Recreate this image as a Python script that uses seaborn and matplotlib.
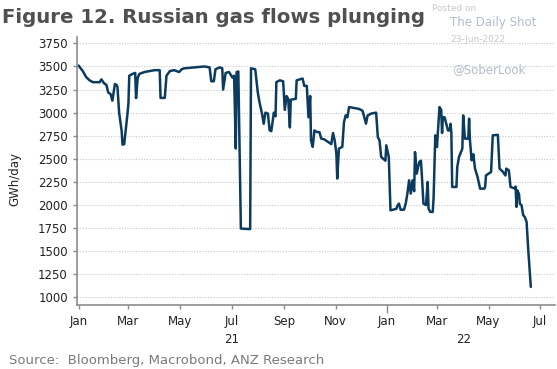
import numpy as np
import pandas as pd
import seaborn as sns
import matplotlib.pyplot as plt
import matplotlib.dates as mdates
import matplotlib.transforms as mtransforms

# values (GWh/day)
dates = [
    "2021-01-01", "2021-01-06", "2021-01-10", "2021-01-14", "2021-01-18", "2021-01-26", "2021-01-28",
    "2021-01-31", "2021-02-03", "2021-02-05", "2021-02-08", "2021-02-10", "2021-02-13", "2021-02-15",
    "2021-02-16", "2021-02-18", "2021-02-21", "2021-02-22", "2021-02-24", "2021-02-28", "2021-03-01",
    "2021-03-02", "2021-03-06", "2021-03-09", "2021-03-10", "2021-03-12", "2021-03-14", "2021-03-20",
    "2021-03-26", "2021-04-01", "2021-04-07", "2021-04-08", "2021-04-13", "2021-04-15", "2021-04-19",
    "2021-04-24", "2021-04-30", "2021-05-03", "2021-05-06", "2021-05-18", "2021-05-30", "2021-06-05",
    "2021-06-07", "2021-06-10", "2021-06-12", "2021-06-17", "2021-06-20", "2021-06-21", "2021-06-24",
    "2021-06-28", "2021-07-02", "2021-07-04", "2021-07-06", "2021-07-07", "2021-07-09", "2021-07-12",
    "2021-07-23", "2021-07-24", "2021-07-29", "2021-08-01", "2021-08-03", "2021-08-06", "2021-08-08",
    "2021-08-10", "2021-08-13", "2021-08-15", "2021-08-17", "2021-08-20", "2021-08-22", "2021-08-23",
    "2021-08-27", "2021-08-31", "2021-09-02", "2021-09-04", "2021-09-06", "2021-09-08", "2021-09-09",
    "2021-09-15", "2021-09-16", "2021-09-23", "2021-09-25", "2021-09-28", "2021-09-30", "2021-10-02",
    "2021-10-03", "2021-10-05", "2021-10-07", "2021-10-10", "2021-10-13", "2021-10-15", "2021-10-19",
    "2021-10-22", "2021-10-27", "2021-10-29", "2021-10-31", "2021-11-02", "2021-11-03", "2021-11-05",
    "2021-11-09", "2021-11-11", "2021-11-13", "2021-11-15", "2021-11-17", "2021-11-23", "2021-11-29",
    "2021-12-03", "2021-12-07", "2021-12-09", "2021-12-13", "2021-12-19", "2021-12-21", "2021-12-23",
    "2021-12-25", "2021-12-30", "2021-12-31", "2022-01-03", "2022-01-05", "2022-01-08", "2022-01-12",
    "2022-01-13", "2022-01-15", "2022-01-17", "2022-01-21", "2022-01-23", "2022-01-25", "2022-01-27",
    "2022-01-29", "2022-01-31", "2022-02-02", "2022-02-03", "2022-02-05", "2022-02-08", "2022-02-10",
    "2022-02-11", "2022-02-13", "2022-02-16", "2022-02-18", "2022-02-19", "2022-02-21", "2022-02-24",
    "2022-02-25", "2022-02-27", "2022-03-01", "2022-03-02", "2022-03-04", "2022-03-06", "2022-03-07",
    "2022-03-08", "2022-03-10", "2022-03-12", "2022-03-14", "2022-03-16", "2022-03-17", "2022-03-18",
    "2022-03-19", "2022-03-24", "2022-03-25", "2022-03-27", "2022-03-31", "2022-04-01", "2022-04-03",
    "2022-04-07", "2022-04-08", "2022-04-09", "2022-04-11", "2022-04-13", "2022-04-15", "2022-04-18",
    "2022-04-21", "2022-04-26", "2022-04-27", "2022-04-28", "2022-05-04", "2022-05-06", "2022-05-12",
    "2022-05-14", "2022-05-18", "2022-05-21", "2022-05-22", "2022-05-25", "2022-05-27", "2022-06-01",
    "2022-06-02", "2022-06-03", "2022-06-04", "2022-06-06", "2022-06-07", "2022-06-09", "2022-06-11",
    "2022-06-13", "2022-06-15", "2022-06-17", "2022-06-20",
]
flows = [
    3510, 3450, 3385, 3350, 3330, 3330, 3360,
    3320, 3300, 3220, 3200, 3130, 3310, 3300,
    3280, 3000, 2800, 2654, 2660, 3000, 3100,
    3400, 3420, 3430, 3158, 3380, 3420, 3440,
    3450, 3460, 3460, 3160, 3160, 3400, 3450,
    3460, 3440, 3470, 3480, 3490, 3500, 3490,
    3340, 3340, 3470, 3490, 3480, 3250, 3430,
    3440, 3380, 3400, 2612, 3440, 3446, 1746,
    1740, 3480, 3470, 3220, 3115, 2990, 2880,
    3000, 2990, 2810, 2800, 3000, 2960, 3330,
    3350, 3340, 3030, 3180, 3150, 2840, 3140,
    3150, 3350, 3370, 3290, 3290, 2950, 3180,
    2700, 2630, 2808, 2790, 2790, 2720, 2710,
    2690, 2660, 2780, 2700, 2557, 2287, 2611,
    2630, 2898, 2971, 2950, 3061, 3050, 3040,
    3020, 2881, 2970, 2990, 3000, 2736, 2700,
    2520, 2480, 2647, 2520, 1944, 1950, 1960,
    1990, 2016, 1950, 1950, 2016, 2124, 2268,
    2124, 2268, 2150, 2574, 2340, 2466, 2480,
    2340, 2016, 2000, 2250, 1962, 1926, 1926,
    2080, 2755, 2628, 2780, 3061, 3030, 2780,
    2952, 2950, 2880, 2808, 2808, 2880, 2780,
    2196, 2196, 2412, 2520, 2611, 2971, 2719,
    2719, 2935, 2700, 2484, 2550, 2395, 2304,
    2178, 2178, 2200, 2322, 2358, 2755, 2760,
    2395, 2360, 2320, 2395, 2376, 2196, 2180,
    2200, 1980, 2160, 2120, 2016, 2000, 1890,
    1870, 1818, 1511, 1115,
]
yticks = [1000, 1250, 1500, 1750, 2000, 2250, 2500, 2750, 3000, 3250, 3500, 3750]
year_labels = ["21", "22"]
year_label_dates = ["2021-07-01", "2022-04-01"]

df = pd.DataFrame({"date": pd.to_datetime(dates), "flow": flows})

sns.set_style("ticks")
plt.rcParams['font.family'] = ['DejaVu Sans']

fig = plt.figure(figsize=(5.57, 3.69), dpi=100)
ax = fig.add_axes([0.138, 0.173, 0.859, 0.727])

sns.lineplot(data=df, x="date", y="flow", color="#0b3b5f", linewidth=1.8, ax=ax)

ax.set_xlim(pd.Timestamp("2020-12-30"), pd.Timestamp("2022-07-19"))
ax.set_ylim(917, 3820)
ax.set_yticks(yticks)
ax.set_yticklabels([str(v) for v in yticks])
ax.xaxis.set_major_locator(mdates.MonthLocator(bymonth=[1, 3, 5, 7, 9, 11]))
ax.xaxis.set_major_formatter(mdates.DateFormatter("%b"))

ax.grid(axis="y", color="#c8c8c8", linestyle=(0, (1, 1.5)), linewidth=0.8)
ax.set_axisbelow(True)
sns.despine(ax=ax)
for s in ["left", "bottom"]:
    ax.spines[s].set_color("#8c8c8c")
    ax.spines[s].set_linewidth(1.2)
ax.tick_params(axis="both", colors="#8c8c8c", labelcolor="#222222", labelsize=8.5, length=3, width=1)
ax.tick_params(axis="x", pad=4)
ax.set_xlabel("")
ax.set_ylabel("")

# longer tick at the year boundary
fig.canvas.draw()
for t, loc in zip(ax.xaxis.get_major_ticks(), ax.xaxis.get_majorticklocs()):
    d = mdates.num2date(loc)
    if d.month == 1 and d.year == 2022:
        t.tick1line.set_markersize(6)

trans = mtransforms.blended_transform_factory(ax.transData, ax.transAxes)
for lab, d in zip(year_labels, year_label_dates):
    ax.text(mdates.date2num(pd.Timestamp(d)), -0.105, lab, transform=trans,
            ha="center", va="top", fontsize=8.5, color="#222222")

fig.text(0.027, 0.515, "GWh/day", rotation=90, ha="center", va="center", fontsize=8.5, color="#222222")
fig.text(0.004, 0.952, "Figure 12. Russian gas flows plunging", fontsize=14.2, fontweight="bold",
         color="#505050", ha="left", va="center")
fig.text(0.016, 0.024, "Source:  Bloomberg, Macrobond, ANZ Research", fontsize=9.5, color="#7a7a7a",
         ha="left", va="center")

# watermark
fig.text(0.775, 0.978, "Posted on", fontsize=6.5, color="#c4c8d0", ha="left", va="center")
fig.text(0.808, 0.938, "The Daily Shot", fontsize=8.5, color="#b4bccb", ha="left", va="center")
fig.text(0.808, 0.893, "23-Jun-2022", fontsize=6.5, color="#c4c8d0", ha="left", va="center")
fig.text(0.812, 0.812, "@SoberLook", fontsize=8.5, color="#b4bccb", ha="left", va="center")

fig.savefig("out.png", dpi=100)
